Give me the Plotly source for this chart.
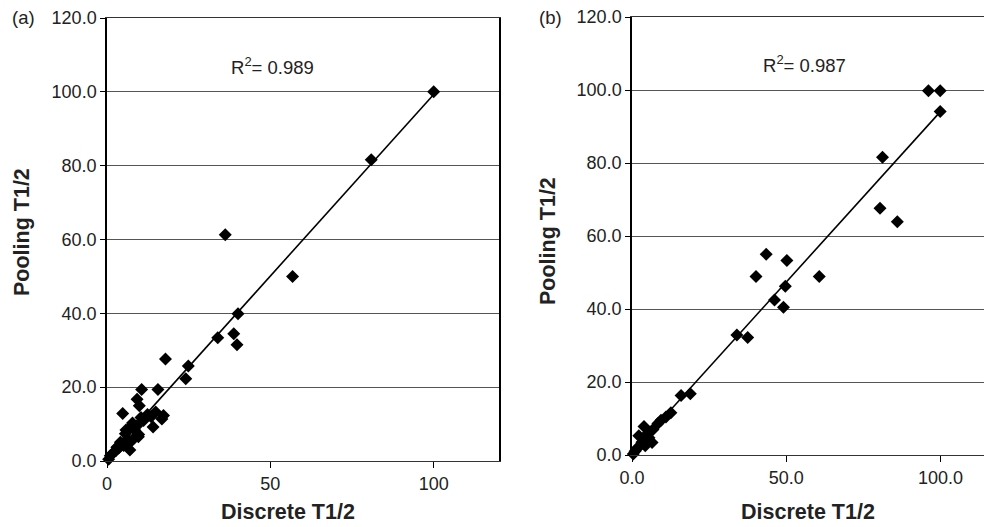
import numpy as np
import plotly.graph_objects as go

W, H = 992, 527
OFF = 8  # page body margin offset in the screenshot

# Panel (a) data: Discrete T1/2 vs Pooling T1/2
a_x = [100, 80.9, 36.2, 56.8, 40.1, 33.9, 38.8, 39.8, 24.9, 24.1, 17.9, 15.6, 10.6, 9.2, 9.9,
       4.8, 14.1, 16.8, 17.3, 14.9, 12.4, 13.5, 11.2, 9.1, 10.4, 7.8, 6.6, 5.6, 9.7, 9.6, 8.1,
       7.1, 7.0, 5.1, 4.1, 3.0, 2.0, 1.0, 0.5, 2.7, 3.6, 6.2, 8.5, 5.8]
a_y = [100, 81.6, 61.3, 50.0, 39.9, 33.4, 34.5, 31.5, 25.7, 22.3, 27.6, 19.4, 19.4, 16.7, 15.0,
       12.9, 9.2, 11.4, 12.3, 13.3, 12.6, 12.0, 11.0, 9.5, 11.8, 10.3, 8.7, 7.4, 7.2, 6.6, 6.0,
       5.1, 3.0, 4.2, 5.1, 3.7, 2.3, 1.4, 0.5, 2.8, 3.5, 5.9, 8.3, 8.4]

# Panel (b) data
b_x = [96.1, 99.9, 99.9, 81.2, 80.4, 86.0, 43.5, 50.2, 40.2, 60.7, 49.7, 46.2, 49.1, 34.0, 37.5,
       15.9, 18.9, 12.6, 11.0, 9.4, 8.4, 3.9, 6.8, 5.2, 2.2, 5.5, 4.6, 3.2, 4.3, 2.1, 1.4, 1.0,
       0.4, 6.5]
b_y = [99.8, 99.8, 94.1, 81.6, 67.6, 63.9, 55.0, 53.3, 48.9, 48.9, 46.2, 42.5, 40.5, 32.9, 32.2,
       16.3, 16.8, 11.6, 10.4, 9.5, 8.6, 7.8, 7.0, 6.0, 5.3, 4.7, 3.8, 3.5, 2.5, 2.2, 1.6, 1.0,
       0.3, 3.4]

r2_labels = ["R<sup>2</sup>= 0.989", "R<sup>2</sup>= 0.987"]
panel_labels = ["(a)", "(b)"]
y_ticks = [0, 20, 40, 60, 80, 100, 120]
y_ticktext = ["0.0", "20.0", "40.0", "60.0", "80.0", "100.0", "120.0"]
a_xticks = [0, 50, 100]
a_xticktext = ["0", "50", "100"]
b_xticks = [0, 50, 100]
b_xticktext = ["0.0", "50.0", "100.0"]


def px(x):
    return (x - OFF) / W


def py(y):
    return 1 - (y - OFF) / H


def fit_line(xs, ys):
    m, c = np.polyfit(xs, ys, 1)
    xx = np.array([min(xs), max(xs)])
    return xx, m * xx + c


fig = go.Figure()
marker = dict(symbol="diamond", size=10, color="black", line=dict(width=0))

fig.add_trace(go.Scatter(x=a_x, y=a_y, mode="markers", marker=marker, xaxis="x", yaxis="y",
                         showlegend=False, cliponaxis=False))
lx, ly = fit_line(a_x, a_y)
fig.add_trace(go.Scatter(x=lx, y=ly, mode="lines", line=dict(color="black", width=1.6),
                         xaxis="x", yaxis="y", showlegend=False))

fig.add_trace(go.Scatter(x=b_x, y=b_y, mode="markers", marker=marker, xaxis="x2", yaxis="y2",
                         showlegend=False, cliponaxis=False))
lx2, ly2 = fit_line(b_x, b_y)
fig.add_trace(go.Scatter(x=lx2, y=ly2, mode="lines", line=dict(color="black", width=1.6),
                         xaxis="x2", yaxis="y2", showlegend=False))

FAM = "Liberation Sans, Arial, sans-serif"
font_tick = dict(family=FAM, size=18, color="#222")
grid = "#555555"

common_y = dict(range=[0, 120], tickvals=y_ticks, ticktext=y_ticktext, showgrid=True,
                gridcolor=grid, gridwidth=1.3, zeroline=False, showline=True,
                linecolor="black", linewidth=1.5, ticks="outside", ticklen=5,
                tickcolor="black", tickfont=font_tick, fixedrange=True, automargin=False,
                ticklabeloverflow="allow")
common_x = dict(showgrid=False, zeroline=False, showline=True, mirror=True,
                linecolor="#333333", linewidth=1.4, ticks="outside", ticklen=6,
                tickcolor="black", tickfont=font_tick, fixedrange=True, automargin=False,
                ticklabeloverflow="allow")

fig.update_layout(
    width=W, height=H, margin=dict(l=0, r=0, t=0, b=0, pad=0, autoexpand=False),
    paper_bgcolor="white", plot_bgcolor="white",
    xaxis=dict(domain=[px(107), px(499)], range=[0, 120], tickvals=a_xticks,
               ticktext=a_xticktext, anchor="y", **common_x),
    yaxis=dict(domain=[py(461), py(18)], anchor="x", mirror=True, **common_y),
    xaxis2=dict(domain=[px(632), px(992)], range=[0, 116.7], tickvals=b_xticks,
                ticktext=b_xticktext, anchor="y2", **common_x),
    yaxis2=dict(domain=[py(455), py(17)], anchor="x2", **common_y),
)

title_font = dict(family=FAM, size=21.5, color="#222")
lab_font = dict(family=FAM, size=18.5, color="#222")


def note(text, x, y, font, angle=0):
    return dict(text=text, x=px(x), y=py(y), xref="paper", yref="paper", showarrow=False,
                xanchor="center", yanchor="middle", textangle=angle, font=font)


ann = [
    note("<b>Discrete T1/2</b>", 288, 512, title_font),
    note("<b>Discrete T1/2</b>", 808, 512, title_font),
    note("<b>Pooling T1/2</b>", 22, 232, title_font, -90),
    note("<b>Pooling T1/2</b>", 548, 241, title_font, -90),
    note(panel_labels[0], 23, 18, lab_font),
    note(panel_labels[1], 550, 18, lab_font),
    note(r2_labels[0], 272, 66, lab_font),
    note(r2_labels[1], 804, 64, lab_font),
]
fig.update_layout(annotations=ann)

fig.write_html("out.html")
